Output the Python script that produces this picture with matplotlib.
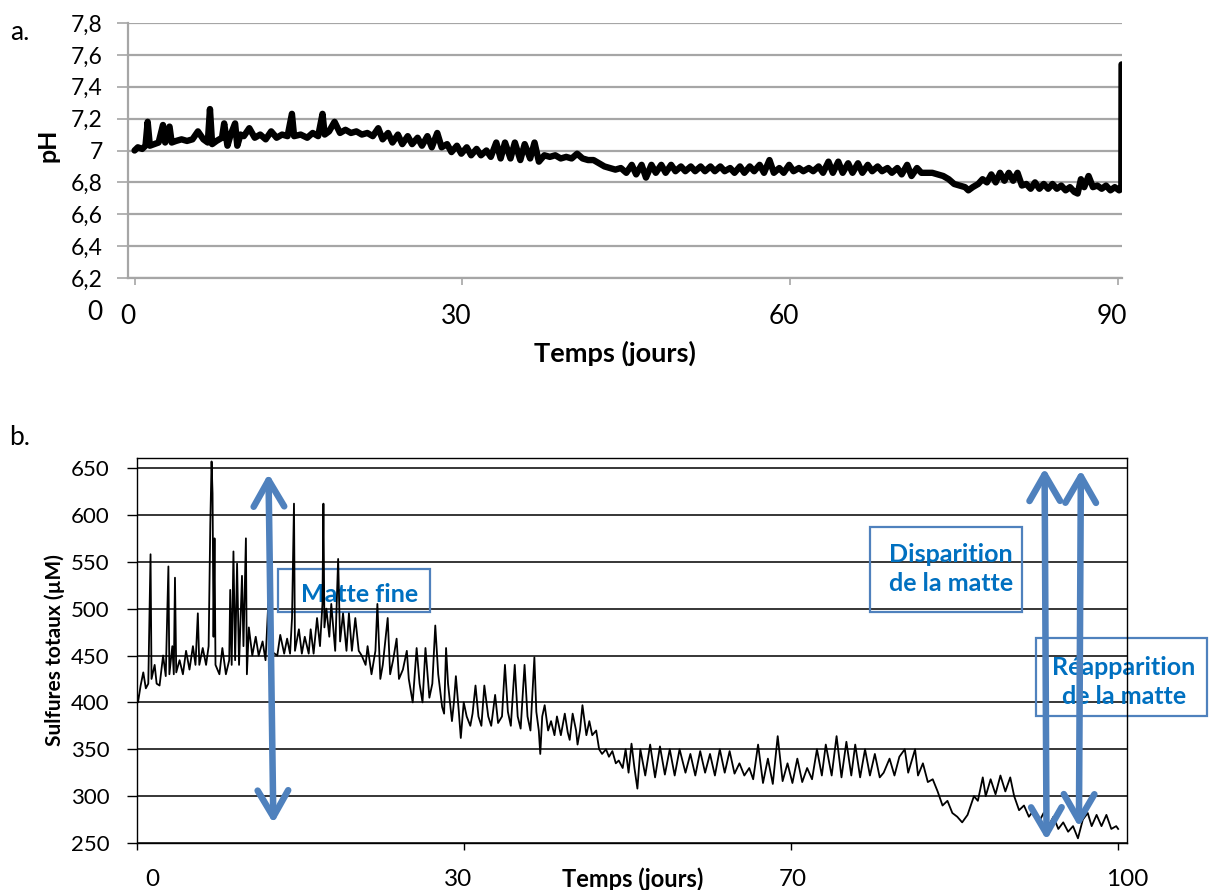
import matplotlib
matplotlib.use("Agg")
import matplotlib.pyplot as plt
from matplotlib.patches import Rectangle

plt.rcParams['font.family'] = ['Lato', 'DejaVu Sans']

# --- panel a: pH over 90 days ---
ph_days = [
    0.0, 0.3, 0.7, 1.0, 1.2, 1.4, 1.8, 2.2, 2.6, 2.8, 3.2, 3.4, 3.8, 4.3, 4.8, 5.3, 5.8, 6.3, 6.7, 6.9,
    7.1, 7.5, 8.0, 8.2, 8.5, 8.8, 9.2, 9.4, 9.7,
    10.0, 10.5, 11.0, 11.5, 12.0, 12.5, 13.0, 13.5, 14.0, 14.4, 14.6, 15.2, 15.8, 16.3, 16.8, 17.2, 17.4,
    17.8, 18.3, 18.8, 19.3, 19.8, 20.3, 20.8, 21.3, 21.8, 22.3, 22.7,
    23.2, 23.6, 24.1, 24.5, 25.0, 25.4, 25.9, 26.3, 26.8, 27.2, 27.7, 28.1, 28.6, 29.0, 29.5, 29.9, 30.4,
    30.8, 31.3, 31.7, 32.2, 32.6, 33.1,
    33.5, 33.9, 34.4, 34.8, 35.3, 35.7, 36.2, 36.6, 37.0,
    37.5, 38.0, 38.5, 39.0, 39.5, 40.0, 40.5, 41.0, 41.5, 42.0, 42.5, 43.0,
    43.5, 44.0, 44.5, 45.0, 45.5, 45.9, 46.4, 46.8, 47.3, 47.7, 48.2, 48.6, 49.1, 49.5, 50.0, 50.4, 50.9,
    51.3, 51.8, 52.2, 52.7, 53.1, 53.6, 54.0, 54.5, 54.9, 55.4, 55.8, 56.3, 56.7, 57.2, 57.6, 58.1, 58.5,
    59.0, 59.4, 59.9, 60.3, 60.8, 61.2, 61.7, 62.1, 62.6, 63.0, 63.5, 63.9, 64.4, 64.8, 65.3, 65.7, 66.2,
    66.6, 67.1, 67.5, 68.0, 68.4, 68.9, 69.3, 69.8, 70.2, 70.7, 71.1, 71.6, 72.0, 72.5, 73.0, 73.5,
    74.0, 74.5, 75.0, 75.5, 76.0, 76.3, 76.7, 77.2, 77.6, 78.0, 78.4, 78.8, 79.2, 79.6, 80.0, 80.4, 80.8,
    81.2, 81.6, 82.0, 82.4, 82.8, 83.2, 83.6, 84.0, 84.4, 84.8, 85.2, 85.6, 86.0, 86.3, 86.6, 86.9, 87.3,
    87.7, 88.1, 88.5, 88.9, 89.3, 89.7, 90.1, 90.3, 90.32,
]
ph_values = [
    7.00, 7.02, 7.01, 7.03, 7.18, 7.03, 7.04, 7.05, 7.16, 7.05, 7.15, 7.05, 7.06, 7.07, 7.06, 7.07, 7.12, 7.07, 7.05, 7.26,
    7.04, 7.06, 7.08, 7.17, 7.03, 7.10, 7.17, 7.03, 7.10,
    7.09, 7.14, 7.08, 7.10, 7.07, 7.12, 7.08, 7.10, 7.09, 7.23, 7.09, 7.10, 7.08, 7.11, 7.09, 7.23, 7.10,
    7.12, 7.18, 7.11, 7.13, 7.11, 7.12, 7.10, 7.11, 7.09, 7.14, 7.07,
    7.11, 7.05, 7.10, 7.04, 7.09, 7.04, 7.08, 7.03, 7.09, 7.02, 7.11, 7.02, 7.04, 6.99, 7.03, 6.98, 7.02,
    6.97, 7.01, 6.97, 7.00, 6.96, 7.05,
    6.95, 7.05, 6.95, 7.05, 6.94, 7.04, 6.95, 7.05, 6.93,
    6.97, 6.96, 6.97, 6.95, 6.96, 6.95, 6.98, 6.95, 6.94, 6.94, 6.92, 6.90,
    6.89, 6.88, 6.89, 6.86, 6.91, 6.85, 6.91, 6.83, 6.91, 6.86, 6.91, 6.86, 6.91, 6.87, 6.90, 6.87, 6.90,
    6.87, 6.90, 6.87, 6.90, 6.87, 6.90, 6.87, 6.89, 6.86, 6.90, 6.86, 6.90, 6.87, 6.91, 6.86, 6.94, 6.86,
    6.89, 6.86, 6.91, 6.87, 6.89, 6.87, 6.89, 6.87, 6.90, 6.86, 6.93, 6.86, 6.93, 6.86, 6.92, 6.86, 6.92,
    6.86, 6.91, 6.87, 6.90, 6.87, 6.89, 6.86, 6.89, 6.85, 6.91, 6.84, 6.89, 6.86, 6.86, 6.86, 6.85,
    6.84, 6.82, 6.79, 6.78, 6.77, 6.75, 6.77, 6.79, 6.82, 6.80, 6.85, 6.80, 6.86, 6.81, 6.86, 6.81, 6.86,
    6.78, 6.79, 6.76, 6.80, 6.76, 6.79, 6.76, 6.79, 6.76, 6.78, 6.75, 6.77, 6.74, 6.73, 6.82, 6.77, 6.84,
    6.77, 6.78, 6.76, 6.78, 6.75, 6.77, 6.75, 6.76, 7.54,
]
ph_ticks = [6.2, 6.4, 6.6, 6.8, 7.0, 7.2, 7.4, 7.6, 7.8]
ph_ticklabels = ['6,2', '6,4', '6,6', '6,8', '7', '7,2', '7,4', '7,6', '7,8']
day_ticks = [0, 30, 60, 90]
day_ticklabels = ['0', '30', '60', '90']

# --- panel b: total sulfides (x on the 0..100 category scale of the original) ---
sulf_x = [
    0.0, 0.1, 0.37, 0.64, 0.9, 1.15, 1.38, 1.48, 1.8, 2.0, 2.3, 2.66, 2.93, 3.2, 3.3, 3.6, 3.75, 3.87, 4.0,
    4.34, 4.68, 5.0, 5.35, 5.7, 5.96, 6.2, 6.35, 6.7, 7.04, 7.3, 7.47, 7.6, 7.7, 7.8, 7.9, 8.0,
    8.4, 8.7, 9.06, 9.4, 9.5, 9.65, 9.83, 10.0, 10.2, 10.4, 10.7, 10.85, 11.1, 11.2, 11.4, 11.75,
    12.1, 12.4, 12.8, 13.1, 13.4, 13.6, 14.3, 14.6, 15.0, 15.3, 15.6, 15.8, 16.0, 16.1, 16.5, 16.8,
    17.1, 17.5, 17.7, 18.0, 18.35, 18.65, 18.9, 19.0, 19.1, 19.3, 19.6, 19.8, 20.2, 20.5, 20.7, 21.0,
    21.35, 21.6, 21.9, 22.25, 22.6, 22.9, 23.3, 23.5, 23.9, 24.3, 24.5, 24.8, 25.05, 25.55, 25.8,
    26.1, 26.46, 26.7, 27.1, 27.5, 27.7, 28.1, 28.5, 28.8, 29.1, 29.4, 29.8, 30.1, 30.4, 30.7, 31.1,
    31.3, 31.5, 31.7, 32.1, 32.3, 32.5, 32.8, 33.0, 33.3, 33.6, 33.97, 34.2, 34.5, 34.8, 35.1, 35.4,
    35.8, 36.1, 36.5, 36.8, 37.2, 37.5, 37.8, 38.1, 38.5, 38.8, 39.1, 39.5, 39.8, 40.1, 40.5, 40.7,
    40.95, 41.1, 41.3, 41.55, 41.9, 42.2, 42.55, 42.8, 43.2, 43.6, 43.9, 44.1, 44.4, 44.75, 44.9,
    45.15, 45.4, 45.8, 46.1, 46.4, 46.8, 47.1, 47.4, 47.8, 48.1, 48.45, 48.8, 49.1, 49.5, 49.8, 50.1,
    50.4, 50.7, 51.0, 51.3, 51.8, 52.3, 52.8, 53.3, 53.8, 54.3, 54.8, 55.3, 55.9, 56.4, 56.9, 57.4,
    57.9, 58.4, 58.9, 59.4, 59.9, 60.4, 60.9, 61.4, 61.9, 62.4, 62.8, 63.3, 63.8, 64.3, 64.8, 65.3,
    65.8, 66.3, 66.8, 67.3, 67.8, 68.3, 68.8, 69.3, 69.8, 70.2, 70.8, 71.3, 71.8, 72.3, 72.8, 73.2,
    73.7, 74.2, 74.7, 75.2, 75.7, 76.1, 76.7, 77.2, 77.7, 78.25, 78.6, 79.3, 79.6, 80.1, 80.6, 81.1,
    81.6, 82.1, 82.6, 83.1, 83.6, 84.1, 84.65, 84.98, 85.3, 85.7, 86.2, 86.5, 87.0, 87.5, 88.0, 88.5,
    89.0, 89.4, 89.9, 90.4, 90.9, 91.4, 91.9, 92.4, 92.9, 93.4, 93.9, 94.4, 94.9, 95.4, 95.9, 96.4,
    96.9, 97.3, 97.8, 98.3, 98.8, 99.3, 99.8, 100.0,
]
sulf_values = [
    410, 400, 418, 432, 415, 420, 558, 425, 440, 420, 418, 450, 428, 545, 430, 460, 430, 533, 432,
    445, 430, 455, 435, 460, 440, 495, 440, 458, 440, 460, 590, 657, 623, 470, 575, 440,
    430, 458, 430, 445, 520, 440, 561, 445, 548, 440, 535, 460, 575, 430, 480, 450,
    470, 450, 465, 445, 510, 455, 450, 472, 452, 468, 452, 490, 612, 455, 478, 452,
    470, 452, 478, 452, 490, 460, 505, 612, 480, 500, 470, 505, 455, 553, 465, 495,
    455, 495, 455, 490, 455, 450, 440, 460, 430, 455, 505, 425, 440, 490, 430,
    445, 468, 425, 435, 455, 425, 400, 458, 420, 400, 458, 405, 420, 482, 430, 395,
    388, 458, 420, 380, 400, 428, 390, 362, 400, 385, 375, 388, 418, 385, 375, 418,
    385, 375, 408, 378, 385, 440, 390, 375, 440, 385, 372, 440, 385, 370, 448, 390,
    370, 345, 385, 397, 370, 380, 365, 385, 365, 388, 368, 360, 388, 370, 355,
    370, 397, 365, 380, 365, 370, 350, 345, 350, 342, 348, 335, 338, 330, 350, 325,
    356, 330, 308, 350, 322, 355, 320, 353, 323, 350, 322, 350, 325, 345, 322, 348,
    325, 345, 322, 350, 325, 348, 324, 335, 322, 330, 318, 355, 314, 340, 313, 364,
    316, 335, 314, 340, 315, 330, 318, 350, 322, 355, 322, 364, 320, 358, 322, 355,
    320, 350, 322, 345, 320, 325, 340, 322, 342, 350, 325, 350, 322, 335, 315, 318,
    305, 290, 295, 282, 278, 272, 280, 290, 300, 295, 320, 300, 318, 302, 322, 305,
    320, 300, 285, 290, 278, 285, 272, 282, 268, 278, 265, 272, 262, 268, 255, 275,
    282, 268, 280, 268, 280, 265, 268, 265,
]
sulf_ticks = [250, 300, 350, 400, 450, 500, 550, 600, 650]
time_ticks = [0, 33.35, 66.65, 100]
time_label_pos = [1.6, 32.7, 66.8, 100.9]
time_ticklabels = ['0', '30', '70', '100']

# annotations: (x_top, y_top, x_bottom, y_bottom)
arrows = [
    (13.4, 644, 13.9, 271),
    (92.5, 650, 92.7, 253),
    (96.2, 648, 96.0, 267),
]
ARROW_BLUE = '#4F81BD'
TEXT_BLUE = '#0070C0'

fig = plt.figure(figsize=(12.2, 8.9), dpi=100)
W, H = 1220, 890

# ---------- panel a ----------
ax1 = fig.add_axes([128 / W, 1 - 278 / H, (1122 - 128) / W, (278 - 23) / H])
ax1.plot(ph_days, ph_values, color='black', lw=4.6, solid_joinstyle='round', solid_capstyle='round', zorder=3)
ax1.set_xlim(0, 90.36)
ax1.set_ylim(6.2, 7.8)
ax1.set_yticks(ph_ticks)
ax1.set_yticklabels(ph_ticklabels, fontsize=16.5)
ax1.set_xticks(day_ticks)
ax1.set_xticklabels([''] * len(day_ticks))
ax1.set_xticks([d - 0.6 for d in day_ticks], minor=True)
ax1.set_xticklabels(day_ticklabels, minor=True, fontsize=19)
ax1.tick_params(axis='x', which='minor', length=0, pad=19)
ax1.tick_params(axis='x', which='major', length=5, color='#A6A6A6', width=1.2)
ax1.tick_params(axis='y', length=8, color='#A6A6A6', width=1.2, pad=10)
ax1.grid(axis='y', color='#A6A6A6', lw=1.6)
ax1.set_axisbelow(True)
for side in ['top', 'right']:
    ax1.spines[side].set_visible(False)
for side in ['left', 'bottom']:
    ax1.spines[side].set_color('#A6A6A6')
    ax1.spines[side].set_linewidth(1.6)
ax1.text(-3.6, -0.135, '0', transform=ax1.get_xaxis_transform(), fontsize=19, ha='center', va='center', clip_on=False)
fig.text(615 / W, 1 - 353 / H, 'Temps (jours)', fontsize=19.5, fontweight='bold', ha='center', va='center')
fig.text(48 / W, 1 - 145 / H, 'pH', fontsize=18, fontweight='bold', rotation=90, ha='center', va='center')
fig.text(20 / W, 1 - 32 / H, 'a.', fontsize=19, ha='center', va='center')

# ---------- panel b ----------
ax2 = fig.add_axes([137 / W, 1 - 843 / H, (1127 - 137) / W, (843 - 458) / H])
ax2.plot(sulf_x, sulf_values, color='black', lw=1.3, zorder=3)
ax2.set_xlim(0, 100.4)
ax2.set_ylim(250, 660.7)
ax2.set_yticks(sulf_ticks)
ax2.set_yticklabels([str(t) for t in sulf_ticks], fontsize=16)
ax2.set_xticks(time_ticks)
ax2.set_xticklabels([''] * len(time_ticks))
ax2.set_xticks(time_label_pos, minor=True)
ax2.set_xticklabels(time_ticklabels, minor=True, fontsize=17.5)
ax2.tick_params(axis='x', which='minor', length=0, pad=19)
ax2.tick_params(axis='x', which='major', length=5, width=1.0)
ax2.tick_params(axis='y', length=7, width=1.0, pad=13)
ax2.grid(axis='y', color='black', lw=1.1)
ax2.set_axisbelow(True)
for side in ax2.spines:
    ax2.spines[side].set_linewidth(1.0)

for x_top, y_top, x_bot, y_bot in arrows:
    ax2.annotate('', xy=(x_top, y_top), xytext=(x_bot, y_bot),
                 arrowprops=dict(arrowstyle='<->,head_length=19,head_width=11', mutation_scale=1,
                                 color=ARROW_BLUE, lw=4.7, shrinkA=0, shrinkB=0,
                                 capstyle='round', joinstyle='round'),
                 annotation_clip=False, zorder=5)

ax2.add_patch(Rectangle((14.4, 496.4), 29.9 - 14.4, 542.3 - 496.4, fill=False, ec=ARROW_BLUE, lw=1.6, clip_on=False, zorder=2))
ax2.text(16.7, 515, 'Matte fine', color=TEXT_BLUE, fontsize=18, fontweight='bold', ha='left', va='center', zorder=2)
ax2.add_patch(Rectangle((74.7, 496.4), 90.2 - 74.7, 587 - 496.4, fill=False, ec=ARROW_BLUE, lw=1.6, clip_on=False, zorder=2))
ax2.text(76.6, 542, 'Disparition\nde la matte', color=TEXT_BLUE, fontsize=18, fontweight='bold',
         ha='left', va='center', linespacing=1.3, zorder=2)
ax2.add_patch(Rectangle((91.6, 385.5), 109.1 - 91.6, 468.7 - 385.5, fill=False, ec=ARROW_BLUE, lw=1.6, clip_on=False, zorder=2))
ax2.text(100.6, 422, 'Réapparition\nde la matte', color=TEXT_BLUE, fontsize=18, fontweight='bold',
         ha='center', va='center', linespacing=1.3, multialignment='center', clip_on=False, zorder=2)

fig.text(633 / W, 1 - 879 / H, 'Temps (jours)', fontsize=17, fontweight='bold', ha='center', va='center')
fig.text(55 / W, 1 - 650 / H, 'Sulfures totaux (µM)', fontsize=15, fontweight='bold', rotation=90, ha='center', va='center')
fig.text(20 / W, 1 - 437 / H, 'b.', fontsize=19, ha='center', va='center')

fig.savefig('out.png', dpi=100)
